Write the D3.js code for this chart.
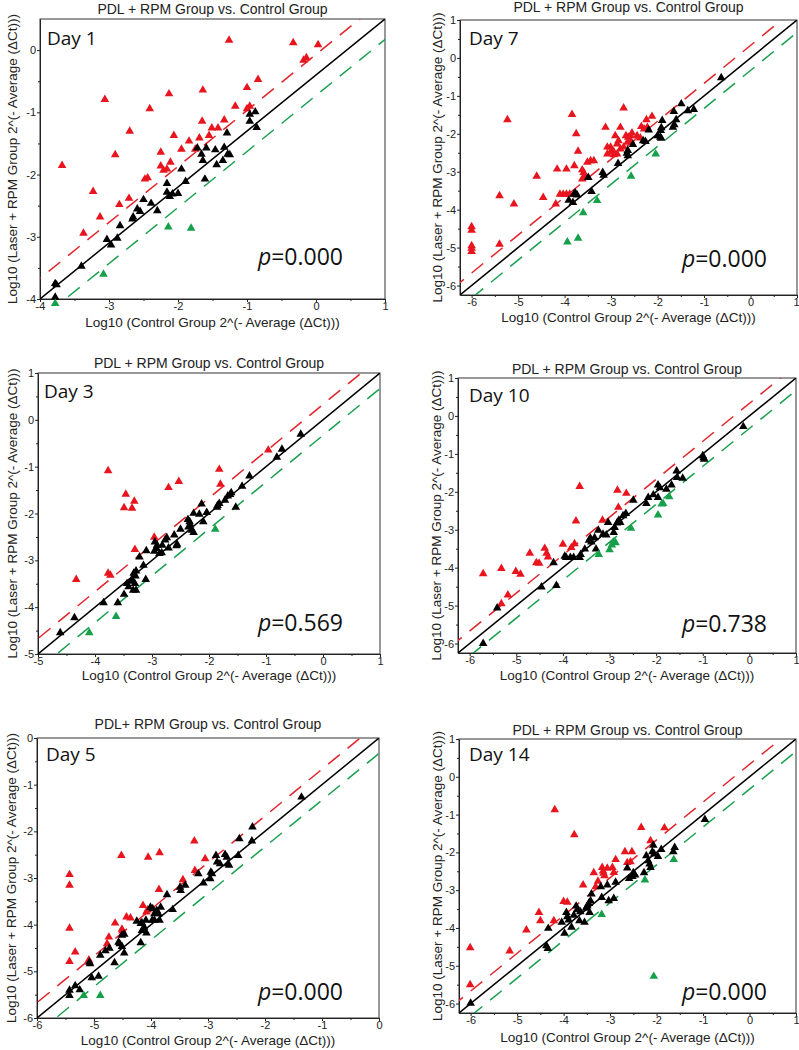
<!DOCTYPE html>
<html><head><meta charset="utf-8">
<script src="https://cdn.jsdelivr.net/npm/d3@7"></script>
<style>body{margin:0;background:#fff}svg{display:block}</style>
</head><body><svg id="c" width="799" height="1050"></svg>
<script>
// ---------- DATA (log10 values) ----------
const day1Red = [[-1.26,0.17],[-0.33,0.13],[0.03,0.10],[-0.18,-0.15],[-0.14,-0.11],[-0.84,-0.46],[-1.00,-0.59],[-1.64,-0.63],[-2.13,-0.69],[-3.06,-0.78],[-2.41,-0.93],[-1.17,-0.89],[-1.00,-0.93],[-0.96,-0.89],[-2.70,-1.29],[-1.33,-1.11],[-1.65,-1.13],[-1.51,-1.24],[-1.42,-1.24],[-1.55,-1.36],[-2.06,-1.36],[-1.69,-1.40],[-1.84,-1.45],[-1.75,-1.58],[-1.95,-1.58],[-2.91,-1.67],[-2.25,-1.63],[-3.68,-1.84],[-2.25,-1.85],[-2.21,-1.92],[-2.16,-1.90],[-2.11,-1.79],[-2.48,-2.06],[-2.44,-2.04],[-3.23,-2.26],[-2.71,-2.37],[-2.85,-2.47],[-3.13,-2.67],[-3.37,-2.93]];
const day1Black = [[-0.96,-1.02],[-0.88,-0.98],[-0.96,-1.13],[-0.86,-1.23],[-1.29,-1.32],[-1.33,-1.55],[-1.46,-1.59],[-1.59,-1.56],[-1.66,-1.66],[-1.64,-1.76],[-1.72,-1.56],[-1.28,-1.66],[-1.25,-1.67],[-1.35,-1.76],[-1.44,-1.83],[-1.61,-2.06],[-1.95,-1.90],[-1.89,-2.10],[-2.16,-2.13],[-2.16,-2.27],[-2.12,-2.34],[-2.08,-2.30],[-2.00,-2.29],[-2.50,-2.39],[-2.39,-2.45],[-2.30,-2.57],[-2.59,-2.54],[-2.55,-2.58],[-2.65,-2.67],[-2.66,-2.70],[-2.84,-2.81],[-2.88,-3.01],[-3.03,-3.03],[-2.97,-3.12],[-3.40,-3.46],[-3.78,-3.74],[-3.76,-3.76],[-3.78,-3.96]];
const day1Green = [[-2.14,-2.83],[-1.81,-2.85],[-3.08,-3.59],[-3.78,-4.06]];

const day7Red = [[-6.0,-4.43],[-6.0,-4.52],[-6.0,-4.93],[-6.0,-5.0],[-6.0,-5.08],[-5.23,-1.61],[-5.40,-3.61],[-5.40,-4.89],[-5.09,-3.83],[-4.60,-3.10],[-4.46,-3.66],[-4.19,-3.83],[-4.16,-2.91],[-4.10,-3.57],[-4.03,-3.57],[-3.96,-3.57],[-3.89,-3.57],[-3.96,-2.91],[-3.84,-1.47],[-3.75,-1.98],[-3.79,-2.82],[-3.71,-2.44],[-3.62,-2.93],[-3.59,-3.00],[-3.62,-3.17],[-3.51,-2.73],[-3.44,-2.69],[-3.37,-2.69],[-3.56,-3.11],[-3.12,-1.81],[-3.08,-2.33],[-3.01,-2.33],[-3.00,-2.44],[-2.94,-2.46],[-2.87,-2.51],[-2.80,-2.38],[-2.73,-2.33],[-2.73,-1.30],[-2.80,-1.81],[-2.68,-2.03],[-2.63,-2.07],[-2.58,-2.03],[-2.91,-2.03],[-2.87,-2.25],[-2.84,-2.16],[-3.08,-2.51],[-2.94,-2.53],[-2.65,-2.20],[-2.58,-2.16],[-2.55,-1.96],[-2.44,-2.03],[-2.37,-2.09],[-2.35,-1.79],[-2.29,-1.85],[-2.22,-1.81],[-2.24,-1.61],[-2.12,-1.52]];
const day7Black = [[-0.63,-0.50],[-1.22,-1.34],[-1.35,-1.37],[-1.49,-1.19],[-1.65,-1.39],[-1.60,-1.61],[-1.64,-1.74],[-1.67,-1.81],[-1.90,-1.63],[-1.92,-1.82],[-1.93,-1.89],[-2.00,-2.03],[-1.94,-2.07],[-1.92,-2.10],[-2.19,-1.88],[-2.31,-2.16],[-2.26,-2.18],[-2.53,-2.26],[-2.64,-2.42],[-2.66,-2.49],[-2.64,-2.56],[-2.85,-2.76],[-3.18,-3.00],[-3.16,-3.07],[-3.49,-3.13],[-3.42,-3.50],[-3.77,-3.54],[-3.73,-3.59],[-3.80,-3.57],[-3.91,-3.73],[-3.82,-3.79]];
const day7Green = [[-2.04,-2.51],[-2.57,-3.10],[-3.30,-3.74],[-3.60,-4.06],[-3.71,-4.73],[-3.94,-4.83]];

const day3Red = [[-3.77,-1.07],[-0.96,-0.63],[-1.82,-1.04],[-1.80,-1.36],[-2.71,-1.43],[-2.53,-1.30],[-3.46,-1.57],[-3.49,-1.86],[-3.35,-1.87],[-3.31,-1.72],[-2.96,-2.49],[-3.30,-2.75],[-3.77,-3.26],[-3.73,-3.30],[-4.33,-3.39]];
const day3Black = [[-0.39,-0.29],[-0.72,-0.61],[-0.81,-0.78],[-1.29,-1.18],[-1.42,-1.40],[-1.61,-1.54],[-1.63,-1.58],[-1.67,-1.61],[-1.72,-1.70],[-1.82,-1.77],[-1.85,-1.81],[-1.86,-1.85],[-1.53,-1.85],[-2.13,-1.78],[-2.04,-1.96],[-2.10,-2.16],[-2.27,-1.98],[-2.17,-2.00],[-2.37,-2.11],[-2.34,-2.16],[-2.33,-2.23],[-2.36,-2.27],[-2.30,-2.34],[-2.27,-2.39],[-2.50,-2.32],[-2.61,-2.44],[-2.56,-2.64],[-2.57,-2.67],[-2.74,-2.50],[-2.77,-2.55],[-2.71,-2.72],[-2.82,-2.66],[-2.83,-2.82],[-2.87,-2.84],[-2.95,-2.59],[-2.91,-2.66],[-2.92,-2.73],[-2.96,-2.79],[-3.10,-2.78],[-3.22,-2.91],[-3.15,-3.09],[-3.11,-3.39],[-3.28,-3.21],[-3.32,-3.26],[-3.29,-3.32],[-3.35,-3.39],[-3.37,-3.43],[-3.30,-3.48],[-3.41,-3.55],[-3.44,-3.48],[-3.49,-3.71],[-3.60,-3.89],[-3.85,-3.89],[-4.36,-4.21],[-4.61,-4.53],[-3.28,-3.62],[-3.33,-3.62]];
const day3Green = [[-1.89,-2.32],[-3.63,-4.18],[-4.10,-4.53]];

const day10Red = [[-3.64,-1.84],[-2.83,-1.94],[-2.64,-2.02],[-2.81,-2.39],[-3.15,-2.73],[-3.72,-2.75],[-3.75,-3.35],[-4.00,-3.36],[-3.82,-3.45],[-4.39,-3.47],[-4.35,-3.60],[-4.32,-3.70],[-4.71,-3.60],[-4.57,-3.85],[-4.51,-3.86],[-5.71,-4.14],[-5.32,-4.00],[-5.01,-4.08],[-4.91,-4.15],[-5.18,-4.70],[-5.32,-4.93]];
const day10Black = [[-0.13,-0.26],[-1.00,-1.03],[-0.98,-1.08],[-0.97,-1.12],[-1.56,-1.43],[-1.55,-1.60],[-1.43,-1.62],[-1.67,-1.80],[-1.78,-1.91],[-1.96,-1.80],[-1.92,-1.87],[-2.06,-2.06],[-2.17,-2.13],[-2.21,-2.29],[-1.96,-2.13],[-2.49,-2.20],[-2.65,-2.55],[-2.71,-2.61],[-2.80,-2.73],[-2.84,-2.80],[-2.77,-2.79],[-2.91,-3.05],[-2.89,-2.92],[-3.03,-2.79],[-3.07,-3.12],[-3.14,-3.10],[-3.24,-2.99],[-3.32,-3.19],[-3.29,-3.49],[-3.41,-3.20],[-3.39,-3.30],[-3.44,-3.26],[-3.53,-3.49],[-3.62,-3.63],[-3.64,-3.71],[-3.77,-3.71],[-3.84,-3.71],[-3.93,-3.71],[-3.96,-3.68],[-4.20,-3.85],[-4.46,-4.49],[-4.14,-4.45],[-5.41,-5.04],[-5.71,-5.98]];
const day10Green = [[-1.96,-2.59],[-1.72,-2.11],[-1.85,-2.29],[-1.88,-2.30],[-2.54,-2.94],[-2.92,-3.30],[-2.87,-3.32],[-3.00,-3.51],[-2.95,-3.38],[-3.23,-3.63]];

const day5Red = [[-5.43,-2.91],[-5.43,-3.14],[-5.43,-4.06],[-5.43,-4.77],[-5.33,-4.57],[-4.52,-2.50],[-4.05,-2.54],[-3.85,-2.44],[-3.24,-2.19],[-3.05,-2.57],[-3.23,-2.82],[-3.86,-3.23],[-3.44,-3.02],[-4.14,-3.57],[-4.08,-3.71],[-4.06,-3.67],[-4.43,-3.82],[-4.36,-3.84],[-4.63,-3.95],[-4.51,-4.08],[-4.50,-4.12],[-4.74,-4.25],[-4.77,-4.39],[-5.09,-4.74]];
const day5Black = [[-1.36,-1.25],[-2.22,-1.89],[-2.23,-2.19],[-2.45,-2.14],[-2.47,-2.50],[-2.70,-2.48],[-2.67,-2.54],[-2.86,-2.50],[-2.84,-2.64],[-2.79,-2.68],[-2.65,-2.68],[-2.63,-2.71],[-2.95,-2.86],[-2.93,-2.89],[-2.96,-3.00],[-3.08,-3.09],[-3.17,-2.89],[-3.40,-3.14],[-3.49,-3.18],[-3.48,-3.25],[-3.72,-3.34],[-3.62,-3.66],[-3.83,-3.61],[-3.90,-3.68],[-3.87,-3.75],[-3.97,-3.64],[-4.01,-3.61],[-3.94,-3.75],[-3.98,-3.89],[-3.94,-3.89],[-3.85,-3.89],[-4.09,-3.89],[-4.16,-3.94],[-4.25,-3.91],[-4.18,-3.96],[-4.12,-4.04],[-4.16,-4.11],[-4.08,-4.16],[-4.47,-4.19],[-4.51,-4.21],[-4.57,-4.36],[-4.55,-4.39],[-4.51,-4.45],[-4.47,-4.59],[-4.73,-4.49],[-4.80,-4.54],[-4.89,-4.64],[-4.64,-4.80],[-5.08,-4.79],[-5.07,-4.82],[-4.18,-4.37],[-4.92,-5.09],[-5.04,-5.12],[-5.33,-5.29],[-5.25,-5.38],[-5.43,-5.39],[-5.43,-5.50]];
const day5Green = [[-5.18,-5.50],[-4.89,-5.50]];

const day14Red = [[-4.19,-0.85],[-3.77,-1.51],[-2.33,-1.32],[-1.83,-1.33],[-2.13,-1.67],[-2.68,-1.96],[-2.53,-1.96],[-2.88,-2.17],[-2.63,-2.25],[-2.56,-2.23],[-3.17,-2.38],[-3.06,-2.40],[-2.95,-2.38],[-2.92,-2.51],[-3.35,-2.52],[-3.15,-2.47],[-3.14,-2.53],[-3.12,-2.60],[-3.26,-2.74],[-3.31,-2.89],[-3.58,-2.84],[-4.00,-3.28],[-3.92,-3.30],[-4.53,-3.57],[-4.50,-3.79],[-4.21,-3.79],[-4.80,-4.03],[-5.16,-4.59],[-6.01,-4.50],[-6.01,-5.48]];
const day14Black = [[-0.96,-1.11],[-2.07,-1.79],[-1.90,-1.90],[-1.61,-1.85],[-1.64,-1.96],[-2.09,-1.96],[-2.05,-2.02],[-2.22,-2.07],[-1.97,-2.09],[-2.18,-2.20],[-2.15,-2.29],[-2.13,-2.38],[-2.27,-2.52],[-2.50,-2.52],[-2.46,-2.58],[-2.52,-2.62],[-2.63,-2.39],[-2.59,-2.67],[-2.88,-2.77],[-3.06,-2.84],[-3.20,-2.89],[-2.92,-3.20],[-3.03,-3.26],[-3.18,-3.17],[-3.40,-3.08],[-3.42,-3.26],[-3.46,-3.33],[-3.49,-3.40],[-3.52,-3.46],[-3.44,-3.57],[-3.64,-3.55],[-3.73,-3.40],[-3.71,-3.50],[-3.78,-3.64],[-3.94,-3.57],[-3.92,-3.68],[-3.89,-3.77],[-3.66,-3.79],[-3.55,-3.83],[-4.04,-3.83],[-3.83,-3.96],[-4.33,-3.99],[-3.98,-4.12],[-4.37,-4.45],[-4.34,-4.52],[-6.00,-5.97]];
const day14Green = [[-1.63,-2.17],[-2.25,-2.71],[-3.18,-3.62],[-2.06,-5.26]];

const dayNames = ["Day 1","Day 7","Day 3","Day 10","Day 5","Day 14"];
const pValues = ["0.000","0.000","0.569","0.738","0.000","0.000"];
const titles = ["PDL + RPM Group vs. Control Group","PDL + RPM Group vs. Control Group","PDL + RPM Group vs. Control Group","PDL + RPM Group vs. Control Group","PDL+ RPM Group vs. Control Group","PDL + RPM Group vs. Control Group"];
const ticksA = [-4,-3,-2,-1,0,1];            // Day 1 x
const ticksA_y = [-4,-3,-2,-1,0];            // Day 1 y
const ticksB = [-6,-5,-4,-3,-2,-1,0,1];      // Day 7/10/14
const ticksC = [-5,-4,-3,-2,-1,0,1];         // Day 3
const ticksD = [-6,-5,-4,-3,-2,-1,0];        // Day 5
const foldOffset = 0.33;                     // dashed threshold lines (log10 units)
const yLabel = "Log10 (Laser + RPM Group 2^(- Average (\u0394Ct)))";
const xLabel = "Log10 (Control Group 2^(- Average (\u0394Ct)))";

// ---------- LAYOUT ----------
const panels = [
  {red:day1Red, black:day1Black, green:day1Green, xd:[-4,1], yd:[-4,0.5], xt:ticksA, yt:ticksA_y,
   box:[40,19,385,299], titleY:14, xlabY:327, ylabX:12, day:[47,45], p:[343,265]},
  {red:day7Red, black:day7Black, green:day7Green, xd:[-6.25,1], yd:[-6.25,1], xt:ticksB, yt:ticksB,
   box:[460,20,797,295], titleY:12, xlabY:322, ylabX:437, day:[469,45], p:[767,267]},
  {red:day3Red, black:day3Black, green:day3Green, xd:[-5,1], yd:[-5,1], xt:ticksC, yt:ticksC,
   box:[38,373,380,654], titleY:368, xlabY:680, ylabX:12, day:[44,398], p:[343,631]},
  {red:day10Red, black:day10Black, green:day10Green, xd:[-6.25,1], yd:[-6.25,1], xt:ticksB, yt:ticksB,
   box:[458,378,796,653], titleY:374, xlabY:680, ylabX:436, day:[469,402], p:[767,632]},
  {red:day5Red, black:day5Black, green:day5Green, xd:[-6,0], yd:[-6,0], xt:ticksD, yt:ticksD,
   box:[37,738,379,1018], titleY:729, xlabY:1045, ylabX:11, day:[46,761], p:[343,1000]},
  {red:day14Red, black:day14Black, green:day14Green, xd:[-6.25,1], yd:[-6.25,1], xt:ticksB, yt:ticksB,
   box:[459,739,796,1013], titleY:735, xlabY:1042, ylabX:437, day:[469,761], p:[767,1000]}
];

const COL = {red:"#e8151f", black:"#000000", green:"#17a04a", redLine:"#e2232b", greenLine:"#19a04e"};
const svg = d3.select("#c");
svg.append("rect").attr("width",799).attr("height",1050).attr("fill","#fff");
const tri = d3.symbol().type(d3.symbolTriangle).size(32);
const sans = "Liberation Sans, Arial, sans-serif";

panels.forEach((P,i)=>{
  const [L,T,R,B] = P.box;
  const x = d3.scaleLinear().domain(P.xd).range([L,R]);
  const y = d3.scaleLinear().domain(P.yd).range([B,T]);
  const g = svg.append("g");
  const cid = "clip"+i;
  svg.append("clipPath").attr("id",cid).append("rect").attr("x",L).attr("y",T).attr("width",R-L).attr("height",B-T);

  // frame
  g.append("rect").attr("x",L).attr("y",T).attr("width",R-L).attr("height",B-T)
    .attr("fill","none").attr("stroke","#333").attr("stroke-width",1);

  // axes (major + minor ticks)
  const fmt = d => String(d);
  const minorX = d3.range(Math.ceil(P.xd[0]*2)/2, P.xd[1], 0.5).filter(v=>Math.abs(v%1)===0.5);
  const minorY = d3.range(Math.ceil(P.yd[0]*2)/2, P.yd[1], 0.5).filter(v=>Math.abs(v%1)===0.5);
  const xa = g.append("g").attr("transform",`translate(0,${B})`)
    .call(d3.axisBottom(x).tickValues(P.xt).tickFormat(fmt).tickSizeInner(3).tickSizeOuter(0).tickPadding(0));
  g.append("g").attr("transform",`translate(0,${B})`)
    .call(d3.axisBottom(x).tickValues(minorX).tickFormat("").tickSizeInner(2).tickSizeOuter(0))
    .select(".domain").remove();
  g.append("g").attr("transform",`translate(${L},0)`)
    .call(d3.axisLeft(y).tickValues(P.yt).tickFormat(fmt).tickSizeInner(3).tickSizeOuter(0).tickPadding(1));
  g.append("g").attr("transform",`translate(${L},0)`)
    .call(d3.axisLeft(y).tickValues(minorY).tickFormat("").tickSizeInner(2).tickSizeOuter(0))
    .select(".domain").remove();
  g.selectAll(".tick text").attr("font-family",sans).attr("font-size",11).attr("fill","#222");
  g.selectAll(".domain").attr("stroke","#222");
  g.selectAll(".tick line").attr("stroke","#222");
  // keep the last x tick label inside the page
  xa.selectAll(".tick").each(function(d){
    if (x(d) > 792) d3.select(this).select("text").attr("text-anchor","end").attr("x",799 - x(d));
  });

  // reference lines: diagonal through the plot corners, and ±fold offsets
  const x0 = P.xd[0], x1 = P.xd[1], y0 = P.yd[0], y1 = P.yd[1];
  const slope = (y1-y0)/(x1-x0);
  const lineY = (xv, off) => y0 + slope*(xv-x0) + off;
  const lg = g.append("g").attr("clip-path",`url(#${cid})`);
  const ext = [x0-1, x1+1];
  const mk = (off,col,dash,w) => lg.append("line")
      .attr("x1",x(ext[0])).attr("y1",y(lineY(ext[0],off)))
      .attr("x2",x(ext[1])).attr("y2",y(lineY(ext[1],off)))
      .attr("stroke",col).attr("stroke-width",w).attr("stroke-dasharray",dash);
  mk(foldOffset, COL.redLine, "15,10", 1.5);
  mk(-foldOffset, COL.greenLine, "15,10", 1.5);
  mk(0, "#000", null, 1.5);

  // points
  const draw = (arr,col) => g.append("g").selectAll("path").data(arr).join("path")
      .attr("d",tri).attr("fill",col)
      .attr("transform",d=>`translate(${x(d[0])},${y(d[1])+0.8})`);
  draw(P.red, COL.red);
  draw(P.black, COL.black);
  draw(P.green, COL.green);

  // texts
  g.append("text").attr("x",(L+R)/2).attr("y",P.titleY).attr("text-anchor","middle")
    .attr("font-family",sans).attr("font-size",14).attr("fill","#222").text(titles[i]);
  g.append("text").attr("x",(L+R)/2).attr("y",P.xlabY).attr("text-anchor","middle")
    .attr("font-family",sans).attr("font-size",13.5).attr("fill","#222").text(xLabel);
  g.append("text").attr("transform",`translate(${P.ylabX+5},${(T+B)/2}) rotate(-90)`).attr("text-anchor","middle")
    .attr("font-family",sans).attr("font-size",13.5).attr("fill","#222").text(yLabel);
  g.append("text").attr("x",P.day[0]).attr("y",P.day[1])
    .attr("font-family","Open Sans, Noto Sans, sans-serif").attr("font-size",19).attr("fill","#111").text(dayNames[i]);
  const pt = g.append("text").attr("x",P.p[0]).attr("y",P.p[1]).attr("text-anchor","end")
    .attr("font-family","Open Sans, Noto Sans, sans-serif").attr("font-size",23).attr("fill","#111");
  pt.append("tspan").attr("font-style","italic").text("p");
  pt.append("tspan").text("="+pValues[i]);
});
</script></body></html>
